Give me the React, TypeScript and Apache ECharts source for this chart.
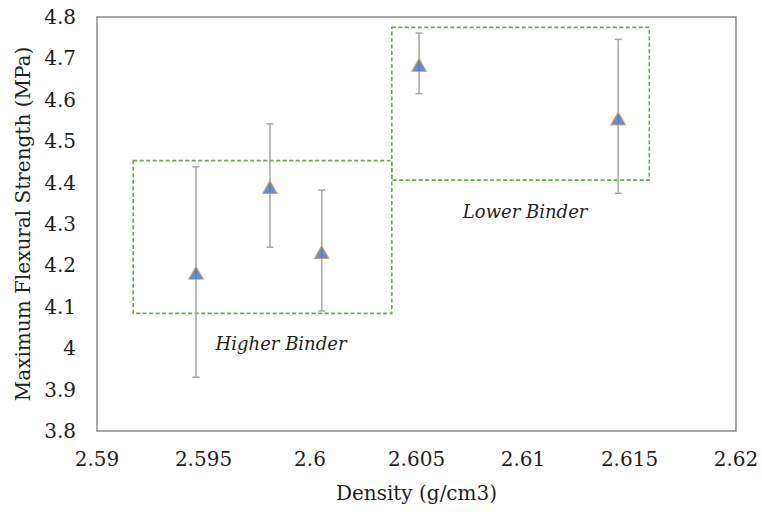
import React, { useEffect, useRef } from "react";
import * as echarts from "echarts";

const densities = [2.59465, 2.59812, 2.60055, 2.60512, 2.61447];
const strengths = [4.182, 4.389, 4.232, 4.684, 4.555];
const errLow = [3.93, 4.244, 4.09, 4.615, 4.374];
const errHigh = [4.438, 4.542, 4.382, 4.761, 4.746];

const boxNames = ["Higher Binder", "Lower Binder"];
const boxX0 = [2.5917, 2.60384];
const boxX1 = [2.60384, 2.61593];
const boxY0 = [4.084, 4.406];
const boxY1 = [4.453, 4.775];
const labelX = [2.59864, 2.6101];
const labelY = [4.011, 4.331];

const FONT = "DejaVu Serif";

export default function App() {
  const ref = useRef<HTMLDivElement>(null);
  useEffect(() => {
    const chart = echarts.init(ref.current!, null, { renderer: "svg" });
    const fmtX = (v: number) => String(parseFloat(v.toFixed(3)));
    const fmtY = (v: number) => String(parseFloat(v.toFixed(1)));
    chart.setOption({
      animation: false,
      textStyle: { fontFamily: FONT },
      grid: {
        left: 97,
        right: 26,
        top: 17,
        bottom: 81,
        show: true,
        borderColor: "#8c8c8c",
        borderWidth: 1.5,
        backgroundColor: "#fff",
      },
      xAxis: {
        type: "value",
        min: 2.59,
        max: 2.62,
        interval: 0.005,
        name: "Density (g/cm3)",
        nameLocation: "middle",
        nameGap: 52,
        nameTextStyle: { fontFamily: FONT, fontSize: 20, color: "#1e1e1e" },
        axisLine: { show: false },
        axisTick: { show: false },
        splitLine: { show: false },
        axisLabel: { fontFamily: FONT, fontSize: 20, color: "#1e1e1e", margin: 18, formatter: fmtX },
      },
      yAxis: {
        type: "value",
        min: 3.8,
        max: 4.8,
        interval: 0.1,
        name: "Maximum Flexural Strength (MPa)",
        nameLocation: "middle",
        nameGap: 58,
        nameTextStyle: { fontFamily: FONT, fontSize: 20, color: "#1e1e1e" },
        axisLine: { show: false },
        axisTick: { show: false },
        splitLine: { show: false },
        axisLabel: { fontFamily: FONT, fontSize: 20, color: "#1e1e1e", margin: 21, formatter: fmtY },
      },
      series: [
        {
          type: "custom",
          name: "boxes",
          silent: true,
          data: boxNames.map((n, i) => [boxX0[i], boxY0[i], boxX1[i], boxY1[i]]),
          renderItem: (params: any, api: any) => {
            const p0 = api.coord([api.value(0), api.value(1)]);
            const p1 = api.coord([api.value(2), api.value(3)]);
            return {
              type: "rect",
              shape: {
                x: p0[0],
                y: p1[1],
                width: p1[0] - p0[0],
                height: p0[1] - p1[1],
              },
              style: {
                fill: "none",
                stroke: "#6aa84f",
                lineWidth: 1.6,
                lineDash: [4, 2.5],
              },
            };
          },
        },
        {
          type: "custom",
          name: "labels",
          silent: true,
          data: boxNames.map((n, i) => [labelX[i], labelY[i]]),
          renderItem: (params: any, api: any) => {
            const p = api.coord([api.value(0), api.value(1)]);
            return {
              type: "text",
              x: p[0],
              y: p[1],
              style: {
                text: boxNames[params.dataIndex],
                fontFamily: FONT,
                fontStyle: "italic",
                fontSize: 18,
                fill: "#1e1e1e",
                align: "center",
                verticalAlign: "middle",
              },
            };
          },
        },
        {
          type: "custom",
          name: "errors",
          silent: true,
          data: densities.map((d, i) => [d, errLow[i], errHigh[i]]),
          renderItem: (params: any, api: any) => {
            const lo = api.coord([api.value(0), api.value(1)]);
            const hi = api.coord([api.value(0), api.value(2)]);
            const w = 3.5;
            const st = { stroke: "#a6a6a6", lineWidth: 1.5 };
            return {
              type: "group",
              children: [
                { type: "line", shape: { x1: lo[0], y1: lo[1], x2: hi[0], y2: hi[1] }, style: st },
                { type: "line", shape: { x1: lo[0] - w, y1: lo[1], x2: lo[0] + w, y2: lo[1] }, style: st },
                { type: "line", shape: { x1: hi[0] - w, y1: hi[1], x2: hi[0] + w, y2: hi[1] }, style: st },
              ],
            };
          },
        },
        {
          type: "scatter",
          name: "Strength",
          symbol: "triangle",
          symbolSize: [15, 13],
          itemStyle: { color: "#4472c4", borderColor: "#e8a33a", borderWidth: 1 },
          data: densities.map((d, i) => [d, strengths[i]]),
        },
      ],
    });
    return () => chart.dispose();
  }, []);
  return <div ref={ref} style={{ width: 762, height: 512, position: "absolute", left: 0, top: 0 }} />;
}
